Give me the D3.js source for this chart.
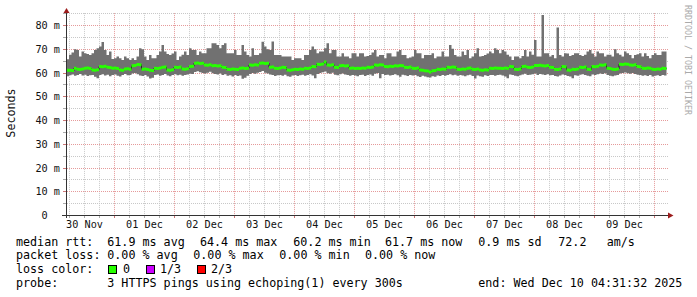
<!DOCTYPE html>
<html><head><meta charset="utf-8">
<script src="https://cdn.jsdelivr.net/npm/d3@7"></script>
<style>
body{margin:0;background:#fff}
svg{display:block}
text{font-family:"DejaVu Sans Mono",monospace}
</style>
</head><body>
<svg id="c" width="697" height="297"></svg>
<script>
// ---------------- DATA ----------------
// hourly columns starting 30 Nov 2025 05:00 (UTC), values in ms
const firstHourUTC = [2025, 10, 30, 5];
const smokeMax = [
65.6,67.5,68.4,69.8,69.5,66.7,68.8,68.1,67.8,67.4,
68.1,69.5,70.2,70.9,72.8,69.5,67.4,68.8,65.7,66.0,
66.7,66.0,65.3,66.7,66.0,65.3,66.0,65.3,66.7,70.2,
69.8,66.7,65.3,67.4,66.0,66.0,67.4,68.8,71.6,68.8,
67.8,67.4,68.0,68.8,65.3,66.7,67.5,68.8,67.4,70.2,
69.5,69.5,67.4,68.8,68.1,68.1,70.2,70.2,72.3,72.3,
71.6,70.2,71.6,72.3,68.1,68.1,68.1,69.5,67.4,67.4,
71.6,68.8,67.4,66.7,70.2,67.4,67.4,68.1,73.0,70.9,
69.8,69.5,73.1,67.4,67.4,67.4,66.7,66.7,66.7,66.7,
65.3,66.0,66.0,66.0,65.3,67.4,67.4,69.5,70.9,69.8,
68.1,68.8,68.8,70.2,72.3,68.1,69.5,69.5,66.7,66.7,
68.1,66.7,66.7,66.0,68.1,68.1,66.7,68.1,68.1,66.7,
67.0,67.4,68.4,69.5,66.7,67.4,67.4,66.0,68.1,68.1,
66.7,66.7,68.8,69.5,67.4,67.4,66.0,66.3,66.7,69.5,
68.1,68.1,66.0,67.4,67.4,67.4,68.1,66.0,66.7,66.7,
68.8,66.7,66.7,71.6,70.0,67.4,66.7,66.7,68.8,67.4,
69.5,66.0,66.7,68.1,70.2,66.7,67.0,67.4,68.0,68.8,
68.1,70.2,69.5,68.1,69.5,68.8,67.5,66.7,65.3,66.7,
66.7,66.0,67.0,69.5,66.7,68.8,67.5,73.7,66.7,66.7,
84.2,68.1,68.1,66.7,67.4,66.0,79.0,67.4,66.7,68.1,
68.0,67.0,67.4,68.1,68.1,67.4,67.0,67.5,68.8,69.5,
68.0,66.7,68.8,68.1,68.1,66.7,67.5,67.5,66.7,69.8,
68.1,67.5,66.7,68.8,68.1,67.4,66.0,67.4,67.7,68.1,
66.7,68.1,67.0,66.0,67.4,68.1,67.4,67.4,68.8,68.8
];
const medianRtt = [
60.9,61.0,60.8,61.8,61.4,61.3,61.5,61.8,61.9,61.7,
61.1,61.0,61.2,62.5,62.4,62.6,62.2,62.1,61.8,61.9,
61.7,61.1,61.0,61.5,61.6,61.4,62.8,62.9,63.4,63.3,
61.4,61.5,61.3,60.9,60.8,61.8,61.7,61.9,62.2,62.3,
61.1,61.0,61.2,62.2,62.1,62.3,61.5,61.4,61.6,62.5,
62.6,63.9,64.0,63.8,63.9,63.2,63.1,63.3,62.8,62.9,
62.7,62.8,62.2,62.1,61.4,61.3,61.5,61.4,61.3,61.8,
61.9,61.7,61.8,63.2,63.1,63.3,63.2,63.9,64.0,63.8,
63.9,62.2,62.3,61.8,61.7,61.9,62.2,62.1,61.1,61.0,
61.2,61.4,61.3,61.5,61.4,61.8,61.7,61.9,62.5,62.4,
63.5,63.4,63.6,64.4,63.2,63.1,63.3,62.2,62.1,62.8,
62.9,62.7,62.8,61.8,61.9,61.7,61.8,61.7,61.9,61.8,
62.2,62.1,62.3,63.2,63.1,63.3,63.2,62.5,62.4,62.6,
62.5,62.8,62.7,62.9,62.8,62.2,62.1,62.3,61.8,61.7,
61.9,61.1,61.0,60.7,60.6,60.2,60.7,60.8,61.4,61.3,
61.5,61.4,62.2,62.1,62.3,62.2,61.4,61.3,61.5,61.4,
61.8,61.9,61.4,61.3,61.5,61.1,61.0,61.2,61.1,61.8,
61.7,61.9,61.8,61.8,61.7,61.9,61.8,62.5,62.4,61.4,
61.3,61.5,62.5,62.6,62.2,62.1,62.3,63.0,62.9,63.1,
62.8,62.7,62.9,62.2,62.1,61.4,61.3,61.5,62.5,62.4,
61.1,61.0,61.4,61.3,61.5,62.2,62.1,62.3,61.4,61.3,
62.5,62.4,62.6,63.2,63.1,63.3,61.8,61.7,61.4,61.3,
61.5,63.5,63.4,63.6,63.5,63.2,63.1,63.3,62.5,62.4,
61.8,61.7,61.9,61.8,61.4,61.3,61.5,61.4,61.8,61.7
];
const smokeMin = [
58.4,58.8,59.2,58.6,58.9,59.4,58.7,59.1,58.5,58.8,
59.0,58.2,57.6,58.9,59.3,58.7,59.1,58.4,58.9,59.2,
58.6,58.3,58.9,59.4,58.8,59.0,59.6,59.8,59.3,58.7,
58.5,58.9,58.3,57.5,57.8,58.9,59.2,58.6,58.9,59.4,
58.7,58.4,58.9,59.3,58.8,59.1,58.6,58.9,59.2,59.5,
59.4,60.2,60.5,60.1,59.8,59.6,59.9,60.3,59.7,59.4,
59.2,59.6,58.9,59.3,58.6,58.8,58.3,58.9,58.5,58.7,
57.4,57.8,58.6,59.4,59.8,59.5,59.9,60.2,60.6,59.9,
59.6,59.2,58.9,58.5,58.8,59.0,58.6,59.1,58.4,58.2,
58.7,58.9,58.5,58.8,59.1,58.6,58.9,59.3,58.7,57.6,
59.4,59.8,60.1,60.4,59.7,59.5,59.9,59.1,58.8,59.3,
59.6,59.2,58.9,58.6,59.0,58.7,58.4,58.9,59.1,58.5,
58.9,59.2,58.6,59.5,59.8,57.6,59.4,58.9,59.1,58.7,
59.0,59.3,58.8,58.2,59.1,58.8,58.5,59.0,58.7,58.9,
58.4,58.1,58.6,58.3,58.0,57.9,58.4,58.2,58.7,58.5,
58.9,58.6,59.0,59.3,58.8,59.1,58.6,58.9,58.7,58.4,
58.8,59.1,58.5,57.5,58.7,58.4,58.2,58.8,58.5,58.9,
59.0,58.6,58.9,59.1,58.7,58.3,57.6,59.2,59.0,58.6,
58.4,58.8,59.2,59.5,58.9,59.1,59.3,59.6,59.0,59.4,
59.2,58.9,59.3,58.8,59.0,58.5,58.3,58.7,59.2,59.0,
58.5,58.3,57.6,58.8,58.6,59.1,59.3,58.9,58.6,58.4,
59.2,59.0,59.3,59.6,59.4,59.7,58.9,58.6,58.4,58.7,
58.9,59.6,59.8,60.0,59.7,59.5,59.8,59.4,59.1,58.9,
58.6,58.8,58.5,58.9,58.3,58.6,58.8,58.5,58.9,58.7
];
const yTickValues = [0,10,20,30,40,50,60,70,80];
const dayLabels = ["30 Nov","01 Dec","02 Dec","03 Dec","04 Dec","05 Dec","06 Dec","07 Dec","08 Dec","09 Dec"];
const legendMedian = ["median rtt:","61.9 ms avg","64.4 ms max","60.2 ms min","61.7 ms now","0.9 ms sd","72.2","am/s"];
const legendLoss = ["packet loss:","0.00 % avg","0.00 % max","0.00 % min","0.00 % now"];
const lossLabels = ["0","1/3","2/3"];
const lossColors = ["#26ff00","#cc00ff","#ff0000"];
const probeText = ["probe:","3 HTTPS pings using echoping(1) every 300s","end: Wed Dec 10 04:31:32 2025"];

// ---------------- CHART ----------------
const svg = d3.select("#c");
svg.append("rect").attr("width",697).attr("height",297).attr("fill","#fff");

const DAY = 86400000, HOUR = 3600000;
const dec1 = Date.UTC(2025,11,1);
const L = 67, R = 668, B = 215;
const t0 = new Date(dec1 - (114 - L) / 60 * DAY);
const t1 = new Date(dec1 + (R - 114) / 60 * DAY);
const xs = d3.scaleUtc().domain([t0, t1]).range([L, R]);
const ys = d3.scaleLinear().domain([0, 80]).range([B, 25]);
const topY = ys(85);

const start = Date.UTC(...firstHourUTC);
const data = smokeMax.map((h, i) => ({t: new Date(start + i*HOUR), hi: h, lo: smokeMin[i], med: medianRtt[i]}));
const ext = data.concat([{t: new Date(start + data.length*HOUR), hi: smokeMax[smokeMax.length-1], lo: smokeMin[smokeMin.length-1], med: medianRtt[medianRtt.length-1]}]);

// grid
const grid = svg.append("g");
const minorY = d3.range(5, 90, 10);
const majorY = yTickValues.filter(v => v > 0);
grid.selectAll(".hmin").data(minorY).enter().append("line")
  .attr("x1", L).attr("x2", R).attr("y1", d => Math.round(ys(d))+0.5).attr("y2", d => Math.round(ys(d))+0.5)
  .attr("stroke","#c8c8c8").attr("stroke-dasharray","1,1");
const hours6 = d3.utcHour.every(6).range(t0, t1).filter(d => d.getUTCHours() !== 0);
const days = d3.utcDay.range(t0, t1);
grid.selectAll(".vmin").data(hours6).enter().append("line")
  .attr("x1", d => Math.round(xs(d))+0.5).attr("x2", d => Math.round(xs(d))+0.5)
  .attr("y1", topY).attr("y2", B).attr("stroke","#c8c8c8").attr("stroke-dasharray","1,1");
grid.selectAll(".hmaj").data(majorY).enter().append("line")
  .attr("x1", L).attr("x2", R).attr("y1", d => Math.round(ys(d))+0.5).attr("y2", d => Math.round(ys(d))+0.5)
  .attr("stroke","#e59a9a").attr("stroke-dasharray","1,1");
grid.selectAll(".vmaj").data(days).enter().append("line")
  .attr("x1", d => Math.round(xs(d))+0.5).attr("x2", d => Math.round(xs(d))+0.5)
  .attr("y1", topY).attr("y2", B).attr("stroke","#e59a9a").attr("stroke-dasharray","1,1");
// small outside ticks
grid.selectAll(".ltick").data(minorY.concat(majorY)).enter().append("line")
  .attr("x1", L-4).attr("x2", L).attr("y1", d => Math.round(ys(d))+0.5).attr("y2", d => Math.round(ys(d))+0.5)
  .attr("stroke", d => d % 10 === 0 ? "#c77" : "#aaa");
grid.selectAll(".btick").data(hours6.concat(days)).enter().append("line")
  .attr("x1", d => Math.round(xs(d))+0.5).attr("x2", d => Math.round(xs(d))+0.5)
  .attr("y1", B).attr("y2", B+3)
  .attr("stroke", d => d.getUTCHours() === 0 ? "#c77" : "#aaa");

// smoke
svg.append("path").datum(ext)
  .attr("d", d3.area().x(d => xs(d.t)).y0(d => ys(d.lo)).y1(d => ys(d.hi)).curve(d3.curveStepAfter))
  .attr("fill","#717171");
// median thin dark line
svg.append("path").datum(ext)
  .attr("d", d3.line().x(d => xs(d.t)).y(d => ys(d.med)).curve(d3.curveStepAfter))
  .attr("fill","none").attr("stroke","#202020").attr("stroke-width",1);
// median loss-coloured band
svg.append("path").datum(ext)
  .attr("d", d3.area().x(d => xs(d.t)).y0(d => ys(d.med)+1.5).y1(d => ys(d.med)-1.5).curve(d3.curveStepAfter))
  .attr("fill", lossColors[0]);

// axes lines
const axisCol = "#333";
svg.append("line").attr("x1", L-5).attr("x2", R).attr("y1", B+0.5).attr("y2", B+0.5).attr("stroke", axisCol);
svg.append("line").attr("x1", L-0.5).attr("x2", L-0.5).attr("y1", B+3).attr("y2", 13).attr("stroke", axisCol);
svg.append("path").attr("d", `M${R},212.5L${R+5.5},215.5L${R},218.5Z`).attr("fill","#9c1c1c");
svg.append("path").attr("d", `M${L-3.5},13L${L-0.5},8L${L+2.5},13Z`).attr("fill","#9c1c1c");

// y axis labels
const yAx = svg.append("g").attr("transform", `translate(${L},0)`)
  .call(d3.axisLeft(ys).tickValues(yTickValues).tickSize(0).tickPadding(7)
    .tickFormat(d => d === 0 ? "0" : d + " m"));
yAx.select(".domain").remove();
yAx.selectAll("text").attr("font-family","DejaVu Sans Mono").attr("font-size","10.2px").attr("fill","#111")
  .attr("dy","0.35em").attr("x", d => d === 0 ? -19.3 : -7);

// x axis labels at noon
const noons = dayLabels.map((_, i) => new Date(Date.UTC(2025,10,30+i,12)));
const xAx = svg.append("g").attr("transform", `translate(0,${B})`)
  .call(d3.axisBottom(xs).tickValues(noons).tickSize(0).tickPadding(6).tickFormat((d,i) => dayLabels[i]));
xAx.select(".domain").remove();
xAx.selectAll("text").attr("font-family","DejaVu Sans Mono").attr("font-size","10.2px").attr("fill","#111");

// y title
svg.append("text").attr("transform","translate(15,113) rotate(-90)").attr("text-anchor","middle")
  .attr("font-size","11.7px").attr("fill","#111").text("Seconds");
// watermark
svg.append("text").attr("transform","translate(685,5) rotate(90)")
  .attr("font-size","8.3px").attr("fill","#aaa").text("RRDTOOL / TOBI OETIKER");

// legend
const fs = "11.7px";
const lg = svg.append("g").attr("font-size", fs).attr("fill","#000");
const row = (items, xsPos, y) => items.forEach((t, i) =>
  lg.append("text").attr("x", xsPos[i]).attr("y", y).attr("dominant-baseline","central")
    .attr("xml:space","preserve").text(t));
row(legendMedian, [16,107.3,200,293.3,385,478.3,558.3,606.7], 241.7);
row(legendLoss, [16,107.3,193.3,279.3,365], 255);
row(["loss color:"], [16], 269.3);
const boxX = [108,146,197], labX = [123,160,211];
lossLabels.forEach((t, i) => {
  lg.append("rect").attr("x", boxX[i]+0.5).attr("y", 265.5).attr("width", 8).attr("height", 8)
    .attr("fill", lossColors[i]).attr("stroke","#000").attr("stroke-width",1);
  lg.append("text").attr("x", labX[i]).attr("y", 269.3).attr("dominant-baseline","central").text(t);
});
row(probeText, [16,107.3,478.3], 283.3);
</script>
</body></html>
